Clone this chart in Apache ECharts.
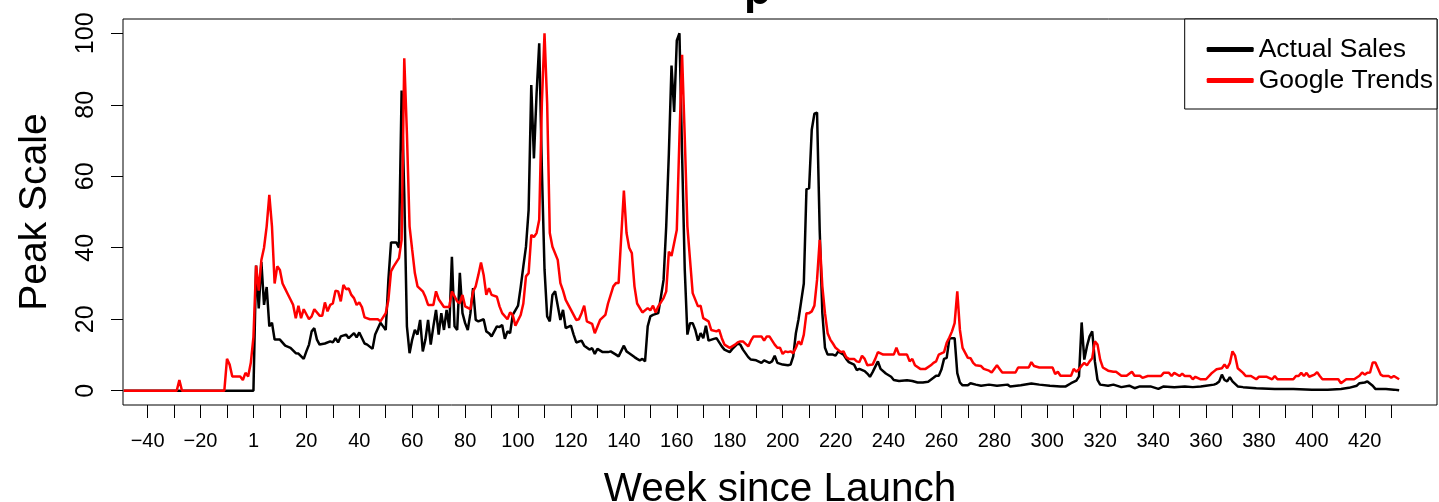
<!DOCTYPE html>
<html>
<head>
<meta charset="utf-8">
<script src="https://cdn.jsdelivr.net/npm/echarts@6/dist/echarts.min.js"></script>
<style>
  html, body { margin: 0; padding: 0; background: #fff; }
  #chart { width: 1439px; height: 502px; }
</style>
</head>
<body>
<div id="chart"></div>
<script>
// weekly sales index (black) and google trends index (red)
var salesWeeks = [-49,0,1,2,3,4,5,6,7,8,10,12,14,16,17,19,20,21,22,23,24,25,27,29,30,31,32,33,35,36,38,39,40,42,43,45,46,48,49,50,51,52,54,55,56,57,58,59,60,61,62,63,64,65,66,67,68,69,70,71,72,73,74,75,76,77,78,79,80,81,82,83,84,85,87,88,89,90,92,93,94,95,96,97,98,100,101,102,103,104,105,106,107,108,109,110,111,112,113,114,116,117,118,120,121,122,124,125,127,128,129,130,132,134,135,137,138,140,141,142,144,145,146,147,148,149,150,151,153,154,155,156,157,158,159,160,161,162,163,164,165,166,167,168,169,170,171,172,174,175,177,178,180,181,183,184,185,187,188,190,192,193,195,196,197,198,200,202,203,204,205,206,207,208,209,210,211,212,213,214,215,216,217,219,220,221,223,224,225,227,228,229,231,232,233,234,236,237,239,241,242,244,247,249,251,253,255,257,258,259,260,261,262,263,264,265,266,267,268,270,271,273,275,278,281,285,286,290,294,297,301,305,307,309,311,312,313,314,315,316,317,318,319,320,323,325,328,331,333,335,339,342,344,348,352,355,358,360,363,364,365,366,367,368,369,370,372,374,379,386,393,400,406,411,414,417,418,420,421,423,424,428,431,433];
var salesValues = [0,0,35,23,36,24,29,18,19,14.3,14.3,12.6,12,10.5,10.4,8.9,11,12.9,16.6,17.5,14.3,12.9,13.2,13.8,13.5,14.7,13.5,15.2,15.7,14.7,16.1,14.9,16.3,13.2,12.9,11.7,15.7,19,18,17,31,41.5,41.5,40,84,55,18,10.5,14.3,17,15.7,19.8,11,14.3,19.8,12.9,18,22.6,15.7,21.7,17,22.6,17.5,37.5,18,17,33,21.7,18.9,17,21.7,28.7,19.8,19.4,20,16.6,16.1,15.2,18,17.8,18.4,14.5,16.6,16.1,21.2,23.8,29,34.8,40.3,50.6,85.5,65,83,97.2,62,34,20.8,19.4,26.8,27.8,19.8,22.6,17.5,18.2,15.7,13.5,14,12.6,11.5,11.9,10.3,11.7,10.8,10.8,11,10.1,9.6,12.6,11,10.5,9.4,8.9,8.5,8.9,8.2,18,20.8,21.2,21.7,26.3,31,46,66.4,91,78,98,100,66,34,15.7,18.9,18.9,17,14,16.1,14.7,18.2,14,14.5,14.7,12.4,11.5,10.8,11.7,13.2,12.9,11.5,9.4,8.7,8.5,7.8,8.5,7.8,8.2,9.8,7.8,7.3,7.1,7.3,9.6,16.1,20,25,30,56.4,56.6,73,77.5,77.8,45,21.7,12,10.1,10.1,9.8,11,10.1,8.9,8,7.3,5.8,6.1,5.5,4.8,3.9,5.2,8.2,6.1,4.8,3.9,3,2.7,2.9,2.7,2.3,2.3,2.5,3.6,4.2,4.2,5.9,8.9,9.2,14.5,14.7,14.7,4.9,2.3,1.5,1.5,2.1,1.7,1.4,1.7,1.4,1.7,1.2,1.5,2,1.7,1.4,1.2,1.2,2.1,2.8,4,19.1,8.7,12.4,15.2,16.6,8.2,3,1.7,1.4,1.7,1,1.4,0.7,1.2,1.2,0.5,1.2,1,1.2,1,1.2,1.4,1.7,2,2.6,4.5,3,2.6,3.8,2.6,1.2,1,0.7,0.5,0.5,0.3,0.3,0.5,0.8,1.4,2.1,2.3,2.6,1.4,0.5,0.5,0.3,0.1];

var trendWeeks = [-49,-29,-28,-27,-11,-10,-9,-8,-5,-4,-3,-2,-1,0,1,2,3,4,5,6,7,8,9,10,11,12,13,14,15,16,17,18,19,21,22,23,25,26,27,28,29,30,31,32,33,34,35,36,37,38,39,40,41,42,44,47,48,50,51,52,53,55,56,57,58,59,60,61,62,64,65,66,68,69,70,72,74,75,77,78,79,80,82,83,84,85,86,87,88,89,90,92,93,94,96,97,98,99,101,102,103,104,105,106,107,108,109,110,111,112,113,115,116,117,118,120,122,123,124,125,126,128,129,131,133,134,136,137,138,139,140,141,142,143,144,145,147,149,150,151,152,153,155,156,157,158,159,160,161,162,163,164,165,166,168,169,170,172,173,175,176,177,178,180,182,183,184,185,187,188,189,191,192,193,194,195,197,198,199,200,201,202,203,204,205,206,207,208,209,210,211,212,213,214,215,216,217,218,219,220,222,223,224,225,227,228,229,230,231,232,234,235,236,238,242,243,244,247,248,249,250,252,254,256,257,258,259,261,262,263,264,265,266,267,268,270,271,272,273,275,276,278,279,281,282,283,286,288,289,291,293,294,295,297,302,303,304,305,309,310,311,312,313,314,315,316,317,318,319,320,321,323,325,326,328,330,332,333,335,336,338,343,344,346,347,348,350,351,352,354,355,356,358,360,362,363,364,366,367,368,369,370,371,372,374,375,377,379,380,383,385,386,387,391,393,394,395,396,397,398,399,401,402,403,404,410,411,413,416,418,419,420,421,422,423,424,426,427,429,430,431,433];
var trendValues = [0,0,3,0,0,8.9,7.3,4,4,3,5,4,7.8,15,35,28,36.6,40,46,54.8,46,30,34.8,33.8,30,28.5,27,25.5,24,20.3,23.8,20.3,22.8,20,20.8,22.8,21,21,24.7,22.2,24,24.4,28,27.8,25,29.6,28.4,28.6,26.8,25.9,24,24.7,23.4,20.5,20,20,19.4,21.7,25.4,33.4,34.8,37.1,42.2,93,72,46,39.4,32.9,29.2,27.8,26.2,24,24,27.8,25.6,23.4,23.4,27.8,25,24.5,26.8,23.6,22.8,27.8,29.2,32.4,35.9,32.4,26.8,28.7,26.8,26.3,23.6,21.7,20,21.9,21.2,18.2,21.2,24.4,32,32.9,43.6,43,44.1,47.8,80.4,100,80.4,44.1,40.3,36.6,30.1,28,25.4,22.6,19.8,20,21.7,23.8,19.4,18.7,16.1,19.8,21.2,24.4,29.2,30.1,30.1,43.1,56,44.1,40,38.5,29.2,24.4,21.9,23.1,22.5,23.8,21.9,23.6,25.9,27.8,38.9,37.7,41.3,45,71,94,71,46,36.6,27.3,23.6,23.8,20.3,19.4,17,16.6,17,14.7,12.9,12,12.9,13.5,13.8,13.8,12.4,14,15.2,15.2,15.2,14,15.2,15.2,12.9,12,12,10.3,11,10.8,11,10.5,12,13.8,12.9,15.7,21.7,21.7,22.2,23.8,31,42.2,29.2,21.7,16.1,14.3,13.2,12,10.8,11,9.4,8.9,8.9,8.2,8,9.8,8.9,7.1,7.3,8.9,10.8,10.1,10.1,12,10.1,10.1,8.2,8.9,7.1,6.1,6.1,7.1,7.8,8.2,10.1,10.8,13.4,14.9,16.6,18.9,27.8,17,12,9.2,9.1,7.8,7.1,6.9,6.1,5.6,5.1,7.1,6.1,5.1,5.1,5.1,6.5,6.5,6.5,8,6.9,6.5,6.5,4.7,5.3,4.2,4.2,6.1,5.3,6,7,7.8,7.1,8.2,9.1,13.8,12.9,8.7,6.5,5.6,5.3,5.3,4.2,4.2,5.3,4.2,4.2,3.6,4.1,4.1,5,5,4.1,5,4.1,4.8,4.1,4.1,3.2,3.9,3.2,3.2,4.8,5.4,6,6.3,7.3,6.3,7.7,11,9.8,6.3,5,4.1,4.1,3.2,3.9,3.9,3.2,4.1,3.2,3.2,3.2,4.1,4.1,5,4.1,5,3.9,4.5,5.2,4.1,3.2,3.2,2.1,3.2,3.2,4.2,5.1,4.5,5,5.1,7.9,7.9,4.5,4.1,4.1,3.6,4.1,3.2,3.2];

var xTicks = [-40,-30,-20,-10,0,10,20,30,40,50,60,70,80,90,100,110,120,130,140,150,160,170,180,190,200,210,220,230,240,250,260,270,280,290,300,310,320,330,340,350,360,370,380,390,400,410,420,430];
var xLabels = [-40,-20,0,20,40,60,80,100,120,140,160,180,200,220,240,260,280,300,320,340,360,380,400,420];
var yTicks = [0,20,40,60,80,100];

var font = 'Liberation Sans, Arial, Helvetica, sans-serif';

function pairs(xs, ys) {
    var out = [];
    for (var i = 0; i < xs.length; i++) out.push([xs[i], ys[i]]);
    return out;
}

var chart = echarts.init(document.getElementById('chart'), null, {renderer: 'canvas'});

chart.setOption({
    animation: false,
    backgroundColor: '#fff',
    textStyle: { fontFamily: font },
    // only the descender of the title shows at the top edge of the picture
    title: {
        text: 'p',
        left: 744,
        top: -30,
        padding: 0,
        textStyle: { fontFamily: font, fontSize: 44, fontWeight: 'bold', color: '#000' }
    },
    grid: {
        left: 123,
        right: 2,
        top: 19,
        bottom: 97,
        outerBoundsMode: 'none',
        show: true,
        borderColor: '#000',
        borderWidth: 1,
        backgroundColor: 'transparent'
    },
    legend: {
        orient: 'vertical',
        right: 2,
        top: 19,
        borderColor: '#000',
        borderWidth: 1,
        backgroundColor: '#fff',
        padding: [17, 4, 15, 22],
        itemGap: 4,
        itemWidth: 47,
        itemHeight: 5,
        icon: 'roundRect',
        textStyle: { fontFamily: font, fontSize: 26.5, color: '#000', padding: [0, 0, 0, 0] },
        data: ['Actual Sales', 'Google Trends']
    },
    xAxis: {
        type: 'value',
        min: -49.3,
        max: 447.3,
        name: 'Week since Launch',
        nameLocation: 'middle',
        nameGap: 64,
        nameTextStyle: { fontFamily: font, fontSize: 40.5, color: '#000' },
        axisLine: { show: false, onZero: false },
        axisTick: { show: true, length: 13, customValues: xTicks, lineStyle: { color: '#000', width: 1 } },
        axisLabel: {
            customValues: xLabels,
            margin: 26,
            fontSize: 20,
            color: '#000',
            fontFamily: font,
            formatter: function (v) { return v === 0 ? '1' : String(v).replace('-', '\u2212'); }
        },
        splitLine: { show: false }
    },
    yAxis: {
        type: 'value',
        min: -4,
        max: 104,
        name: 'Peak Scale',
        nameLocation: 'middle',
        nameGap: 68,
        nameTextStyle: { fontFamily: font, fontSize: 39, color: '#000' },
        axisLine: { show: false, onZero: false },
        axisTick: { show: true, length: 12, customValues: yTicks, lineStyle: { color: '#000', width: 1 } },
        axisLabel: {
            customValues: yTicks,
            rotate: 90,
            margin: 24,
            fontSize: 25,
            color: '#000',
            fontFamily: font
        },
        splitLine: { show: false }
    },
    series: [
        {
            name: 'Actual Sales',
            type: 'line',
            showSymbol: false,
            symbol: 'none',
            color: '#000',
            lineStyle: { color: '#000', width: 2.5 },
            data: pairs(salesWeeks, salesValues)
        },
        {
            name: 'Google Trends',
            type: 'line',
            showSymbol: false,
            symbol: 'none',
            color: '#ff0000',
            lineStyle: { color: '#ff0000', width: 2.5 },
            data: pairs(trendWeeks, trendValues)
        }
    ]
});
</script>
</body>
</html>
